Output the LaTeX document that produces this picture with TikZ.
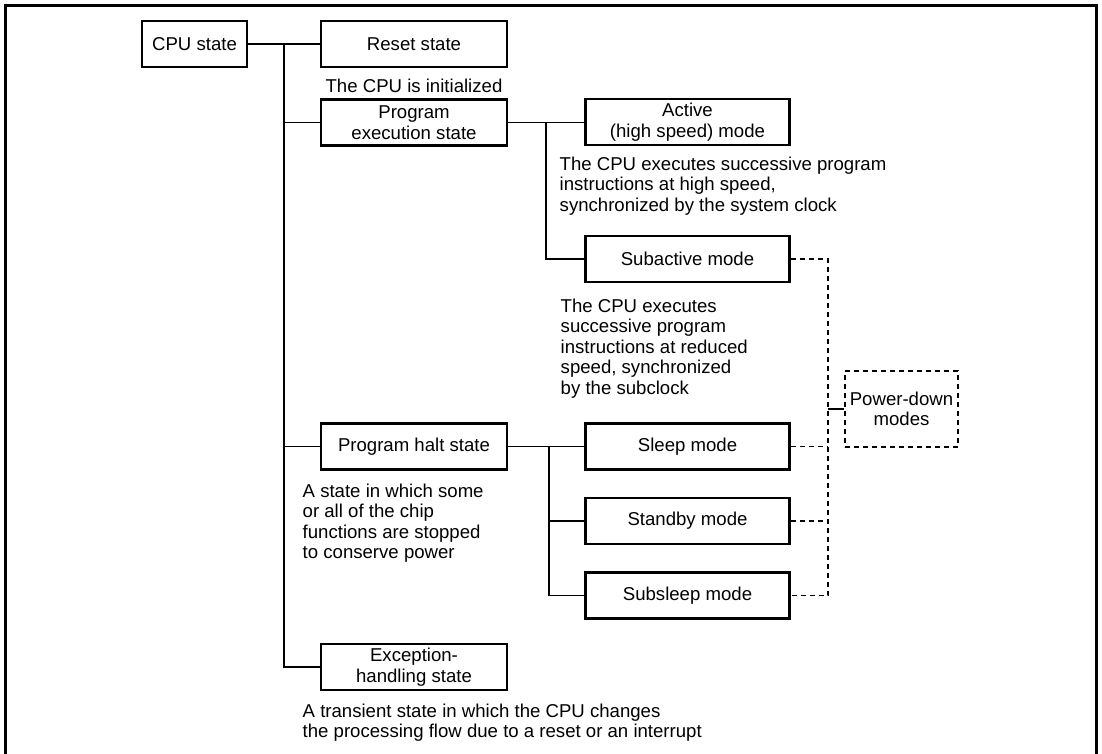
\documentclass[tikz,border=0pt]{standalone}
\usepackage{fontspec}
\setmainfont{Liberation Sans}
\usetikzlibrary{positioning}

\begin{document}
\begin{tikzpicture}[x=0.5pt, y=-0.5pt, line width=0.7pt,
    font=\fontsize{9.3}{10.3}\selectfont,
    block/.style={
    draw,
    rectangle,
    line width=1.4pt,
    align=center,
    inner sep=0pt,
    minimum height=23pt},
    note/.style={align=left, inner sep=0pt, anchor=north west},
    pdline/.style={line width=0.6pt, dash pattern=on 2.5pt off 2pt}]
    \useasboundingbox (0,0) rectangle (1102,754);
    \draw[line width=1.5pt] (5.5,5.5) rectangle (1096.5,760);

    \node [block, minimum width=52.5pt] (Cpu) at (194.5,44) {CPU state};

    \node [block, minimum width=93pt] (Reset) at (414,44) {Reset state};
    \node [block, minimum width=93pt] (ProgExec) at (414,122.5) {Program\\execution state};
    \node [block, minimum width=93pt] (Halt) at (414,446.5) {Program halt state};
    \node [block, minimum width=93pt] (Exception) at (414,667) {Exception-\\handling state};

    \node [block, minimum width=102pt] (Active) at (687.5,122) {Active\\(high speed) mode};
    \node [block, minimum width=102pt] (Subactive) at (687.5,259) {Subactive mode};
    \node [block, minimum width=102pt] (Sleep) at (687.5,446.5) {Sleep mode};
    \node [block, minimum width=102pt] (Standby) at (687.5,521) {Standby mode};
    \node [block, minimum width=102pt] (Subsleep) at (687.5,595.5) {Subsleep mode};

    \node [draw, pdline, align=center, inner sep=0pt,
           minimum width=56.5pt, minimum height=38pt] (PowerDown) at (901.5,409) {Power-down\\modes};

    \node [inner sep=0pt] (ResetNote) at (414,86) {The CPU is initialized};
    \node [note] (ActiveNote) at (559,156) {The CPU executes successive program\\instructions at high speed,\\synchronized by the system clock};
    \node [note] (SubactiveNote) at (560,298) {The CPU executes\\successive program\\instructions at reduced\\speed, synchronized\\by the subclock};
    \node [note] (HaltNote) at (302,483) {A state in which some\\or all of the chip\\functions are stopped\\to conserve power};
    \node [note] (ExceptionNote) at (302,703) {A transient state in which the CPU changes\\the processing flow due to a reset or an interrupt};

    \coordinate (Trunk) at (284,44);
    \coordinate (ExecBus) at (546,122.5);
    \coordinate (HaltBus) at (549,446.5);
    \coordinate (PdBus) at (828,409);

    \draw (Cpu.east) -- (Reset.west);
    \draw (Trunk) |- (ProgExec.west);
    \draw (Trunk) |- (Halt.west);
    \draw (Trunk) |- (Exception.west);

    \draw (ProgExec.east) -- (ProgExec.east -| Active.west);
    \draw (ExecBus) |- (Subactive.west);

    \draw (Halt.east) -- (Sleep.west);
    \draw (HaltBus) |- (Standby.west);
    \draw (HaltBus) |- (Subsleep.west);

    \draw[pdline] (Subactive.east) -| (PdBus) |- (Subsleep.east);
    \draw[pdline] (Sleep.east) -- (Sleep.east -| PdBus);
    \draw[pdline] (Standby.east) -- (Standby.east -| PdBus);
    \draw (PdBus) -- (PowerDown.west);
\end{tikzpicture}
\end{document}
